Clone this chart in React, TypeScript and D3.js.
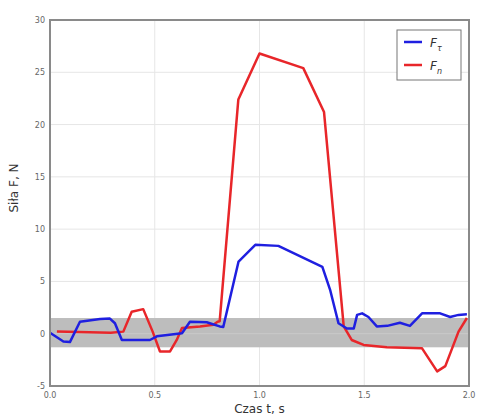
import React from "react";
import * as d3 from "d3";

// czas t [s] i siły [N]
const tauTime = [0, 0.064, 0.095, 0.143, 0.239, 0.286, 0.31, 0.343, 0.477, 0.51, 0.63, 0.668, 0.748, 0.81, 0.827, 0.9, 0.98, 1.09, 1.3, 1.337, 1.377, 1.417, 1.45, 1.466, 1.49, 1.52, 1.56, 1.61, 1.67, 1.718, 1.776, 1.862, 1.91, 1.95, 1.99];
const tauForce = [0.1, -0.75, -0.8, 1.15, 1.4, 1.45, 1.0, -0.6, -0.6, -0.25, 0.05, 1.15, 1.1, 0.7, 0.65, 6.9, 8.5, 8.4, 6.4, 4.2, 1.0, 0.5, 0.5, 1.8, 1.95, 1.6, 0.7, 0.75, 1.05, 0.75, 1.95, 1.95, 1.6, 1.8, 1.85];

const nTime = [0.033, 0.29, 0.35, 0.39, 0.445, 0.49, 0.525, 0.573, 0.605, 0.63, 0.716, 0.78, 0.8, 0.81, 0.899, 1.0, 1.209, 1.308, 1.386, 1.402, 1.44, 1.497, 1.608, 1.776, 1.848, 1.887, 1.95, 1.99];
const nForce = [0.2, 0.1, 0.2, 2.1, 2.35, 0.2, -1.7, -1.7, -0.6, 0.55, 0.68, 0.85, 1.15, 1.2, 22.4, 26.8, 25.4, 21.2, 4.2, 0.7, -0.6, -1.07, -1.3, -1.4, -3.6, -3.1, 0.2, 1.5];

const band = [-1.3, 1.5];
const xTicks = [0, 0.5, 1, 1.5, 2];
const yTicks = [-5, 0, 5, 10, 15, 20, 25, 30];

const W = 477;
const H = 419;
const L = 50, R = 469, T = 20, B = 386;

export default function App() {
  const x = d3.scaleLinear().domain([0, 2]).range([L, R]);
  const y = d3.scaleLinear().domain([-5, 30]).range([B, T]);
  const line = d3
    .line<[number, number]>()
    .x((d) => x(d[0]))
    .y((d) => y(d[1]));
  const tauPts = tauTime.map((t, i) => [t, tauForce[i]] as [number, number]);
  const nPts = nTime.map((t, i) => [t, nForce[i]] as [number, number]);
  const font = "'DejaVu Sans', sans-serif";

  return (
    <svg width={W} height={H} style={{ position: "absolute", left: 0, top: 0 }} fontFamily={font}>
      <rect width={W} height={H} fill="#fff" />
      {/* siatka */}
      {xTicks.slice(1, -1).map((t) => (
        <line key={"gx" + t} x1={x(t)} x2={x(t)} y1={T} y2={B} stroke="#e6e6e6" strokeWidth={1} />
      ))}
      {yTicks.slice(1, -1).map((t) => (
        <line key={"gy" + t} x1={L} x2={R} y1={y(t)} y2={y(t)} stroke="#e6e6e6" strokeWidth={1} />
      ))}
      <rect x={L} width={R - L} y={y(band[1])} height={y(band[0]) - y(band[1])} fill="#bdbdbd" />
      <line x1={L} x2={R} y1={y(0)} y2={y(0)} stroke="#c9c9c9" strokeWidth={1} />

      <path d={line(nPts) || ""} fill="none" stroke="#e8262a" strokeWidth={2.5} strokeLinejoin="round" />
      <path d={line(tauPts) || ""} fill="none" stroke="#1f1fe0" strokeWidth={2.5} strokeLinejoin="round" />

      <rect x={L} y={T} width={R - L} height={B - T} fill="none" stroke="#8a8a8a" strokeWidth={2} />

      {xTicks.map((t) => (
        <text key={"tx" + t} x={x(t)} y={B + 12} fontSize={8} fill="#666" textAnchor="middle">
          {d3.format(".1f")(t)}
        </text>
      ))}
      {yTicks.map((t) => (
        <text key={"ty" + t} x={L - 5} y={y(t) + 3} fontSize={8} fill="#666" textAnchor="end">
          {t}
        </text>
      ))}

      <text x={(L + R) / 2} y={413} fontSize={12} fill="#333" textAnchor="middle">
        Czas t, s
      </text>
      <text transform={`translate(18,188) rotate(-90)`} fontSize={12} fill="#333" textAnchor="middle">
        Siła F, N
      </text>

      <g>
        <rect x={397} y={30} width={64} height={50} fill="#fff" stroke="#777" strokeWidth={1} />
        <line x1={404} x2={422} y1={42} y2={42} stroke="#1f1fe0" strokeWidth={2.5} />
        <line x1={404} x2={422} y1={65} y2={65} stroke="#e8262a" strokeWidth={2.5} />
        <text x={430} y={47} fontSize={12} fill="#333" fontStyle="italic">
          F<tspan fontSize={8} dy={4}>τ</tspan>
        </text>
        <text x={430} y={70} fontSize={12} fill="#333" fontStyle="italic">
          F<tspan fontSize={8} dy={4}>n</tspan>
        </text>
      </g>
    </svg>
  );
}
